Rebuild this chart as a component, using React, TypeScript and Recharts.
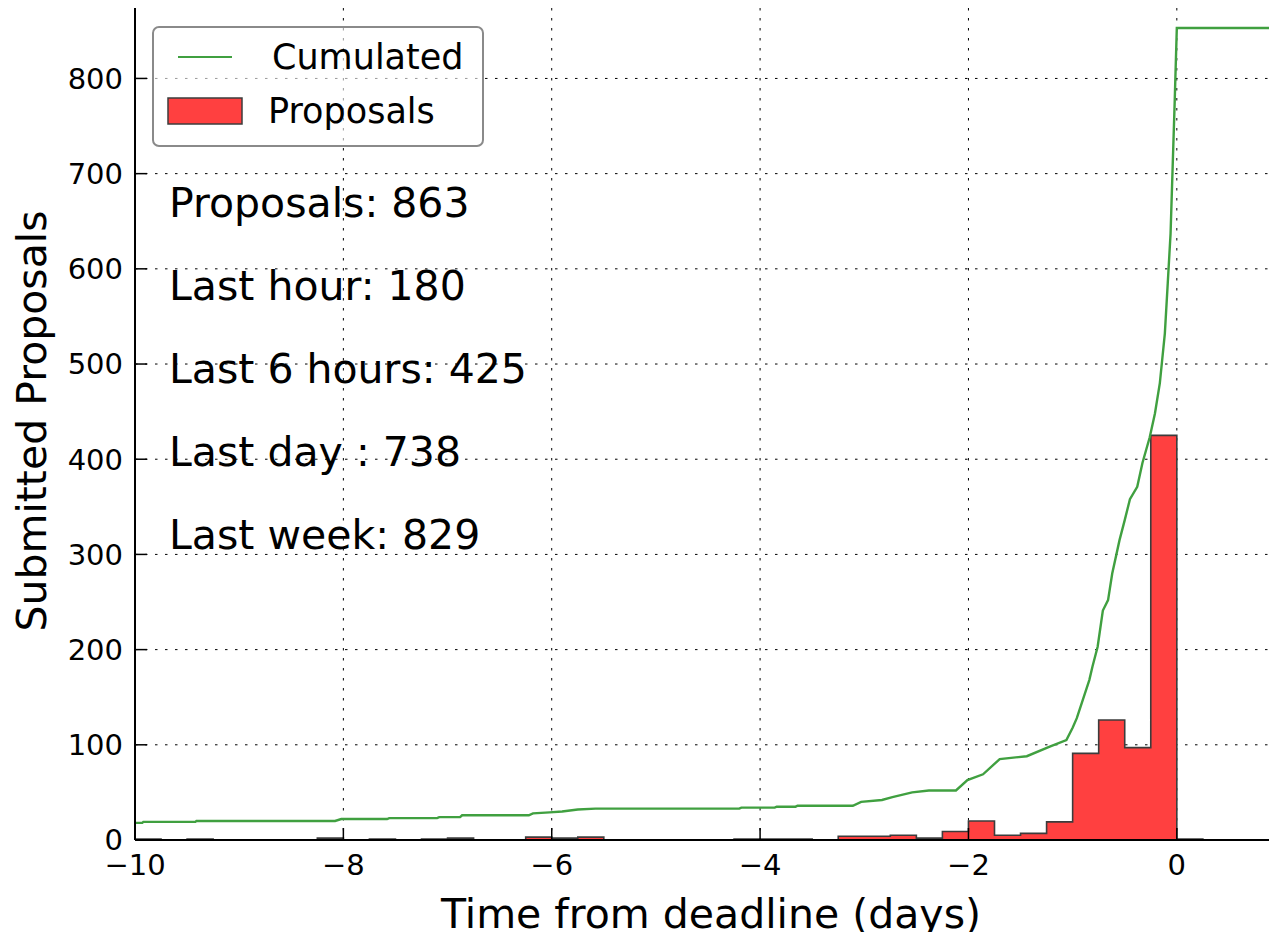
import React from 'react';
import { ComposedChart, Area, Line, XAxis, YAxis, CartesianGrid, Customized } from 'recharts';

// ---- data ----
// 6-hour histogram bins (start of each bin, in days from deadline) and counts
const binStarts = [
  -10, -9.75, -9.5, -9.25, -9, -8.75, -8.5, -8.25, -8, -7.75, -7.5, -7.25, -7, -6.75, -6.5,
  -6.25, -6, -5.75, -5.5, -5.25, -5, -4.75, -4.5, -4.25, -4, -3.75, -3.5, -3.25, -3, -2.75,
  -2.5, -2.25, -2, -1.75, -1.5, -1.25, -1, -0.75, -0.5, -0.25, 0, 0.25, 0.5, 0.75,
];
const binCounts = [
  1, 0, 1, 0, 0, 0, 0, 2, 0, 1, 0, 1, 2, 0, 0,
  3, 2, 3, 0, 0, 0, 0, 0, 1, 1, 1, 0, 4, 4, 5,
  2, 9, 20, 5, 7, 19, 91, 126, 97, 425, 1, 0, 0, 0,
];
const lastBinEnd = 1;

// cumulated curve
const cumDays = [
  -10, -9.93, -9.92, -9.42, -9.41, -8.08, -8.02, -7.58, -7.56, -7.1, -7.08, -6.88, -6.86,
  -6.22, -6.18, -6.02, -5.9, -5.75, -5.58, -4.2, -4.18, -3.86, -3.84, -3.66, -3.64, -3.11,
  -3.03, -2.83, -2.73, -2.54, -2.38, -2.12, -2.01, -1.86, -1.7, -1.44, -1.22, -1.06, -1.0,
  -0.96, -0.9, -0.84, -0.81, -0.76, -0.71, -0.66, -0.62, -0.55, -0.5, -0.45, -0.38, -0.33,
  -0.26, -0.21, -0.163, -0.115, -0.087, -0.06, -0.04, -0.02, 0, 1,
];
const cumTotals = [
  18, 18, 19, 19, 20, 20, 22, 22, 23, 23, 24, 24, 26,
  26, 28, 29, 30, 32, 33, 33, 34, 34, 35, 35, 36, 36,
  40, 42, 45, 50, 52, 52, 63, 69, 85, 88, 98, 105, 118,
  128, 148, 168, 182, 203, 241, 252, 280, 315, 336, 358, 371, 396,
  423, 448, 480, 532, 585, 637, 707, 777, 853, 853,
];

const xTicks = [-10, -8, -6, -4, -2, 0];
const yTicks = [0, 100, 200, 300, 400, 500, 600, 700, 800];
const seriesNames = ['Cumulated', 'Proposals'];
const statLabels = [
  'Proposals: 863',
  'Last hour: 180',
  'Last 6 hours: 425',
  'Last day : 738',
  'Last week: 829',
];
const xTitle = 'Time from deadline (days)';
const yTitle = 'Submitted Proposals';

// step-filled histogram: each bin start with its count, closed at the last bin edge
const histData = [
  ...binStarts.map((s, i) => ({ t: s, count: binCounts[i] })),
  { t: lastBinEnd, count: 0 },
];
const lineData = cumDays.map((d, i) => ({ t: d, cum: cumTotals[i] }));

// ---- styles ----
const FONT = 'DejaVu Sans';
const GREEN = '#40a040';
const RED = '#ff4040';
const EDGE = '#3c3c3c';
const fmt = (v: number) => (v < 0 ? `\u2212${-v}` : `${v}`);

const Overlay = () => (
  <g fontFamily={FONT} fill="#000">
    {/* legend */}
    <rect x={153} y={27} width={330} height={119} rx={6} ry={6} fill="#fff" fillOpacity={0.6} stroke="#8a8a8a" strokeWidth={2} />
    <line x1={178} x2={232} y1={57} y2={57} stroke={GREEN} strokeWidth={2} />
    <text x={272} y={69} fontSize={35}>{seriesNames[0]}</text>
    <rect x={168} y={98} width={74} height={26} fill={RED} stroke={EDGE} strokeWidth={1.5} />
    <text x={268} y={123} fontSize={35}>{seriesNames[1]}</text>
    {/* stats */}
    {statLabels.map((s, i) => (
      <text key={s} x={169} y={217 + i * 83} fontSize={41}>{s}</text>
    ))}
    {/* axis titles */}
    <text x={711} y={928} fontSize={41} textAnchor="middle">{xTitle}</text>
    <text x={46} y={421} fontSize={41} textAnchor="middle" transform="rotate(-90 46 421)">{yTitle}</text>
  </g>
);

export default function App() {
  return (
    <div style={{ position: 'absolute', left: 0, top: 0, width: 1269, height: 932, overflow: 'hidden', background: '#fff' }}>
      <ComposedChart
        width={1281}
        height={932}
        data={histData}
        margin={{ top: 8, right: 0, bottom: 0, left: 35 }}
      >
        <CartesianGrid stroke="#000" strokeDasharray="2.5 7.5" strokeWidth={1} verticalValues={xTicks} horizontalValues={yTicks} />
        <XAxis
          dataKey="t"
          type="number"
          domain={[-10, 1]}
          ticks={xTicks}
          interval={0}
          allowDataOverflow
          height={92}
          tickFormatter={fmt}
          tickSize={-12}
          tickMargin={26}
          axisLine={{ stroke: '#000', strokeWidth: 2 }}
          tickLine={{ stroke: '#000', strokeWidth: 1.5 }}
          tick={{ fill: '#000', fontSize: 29, fontFamily: FONT }}
        />
        <XAxis
          xAxisId="top"
          orientation="top"
          dataKey="t"
          type="number"
          domain={[-10, 1]}
          ticks={xTicks}
          interval={0}
          allowDataOverflow
          height={0}
          tick={false}
          tickSize={-12}
          axisLine={{ stroke: '#000', strokeWidth: 2 }}
          tickLine={{ stroke: '#000', strokeWidth: 1.5 }}
        />
        <XAxis xAxisId="line" dataKey="t" type="number" domain={[-10, 1]} allowDataOverflow hide />
        <YAxis
          type="number"
          domain={[0, 874]}
          ticks={yTicks}
          interval={0}
          allowDataOverflow
          width={100}
          tickFormatter={fmt}
          tickSize={-12}
          tickMargin={24}
          axisLine={{ stroke: '#000', strokeWidth: 2 }}
          tickLine={{ stroke: '#000', strokeWidth: 1.5 }}
          tick={{ fill: '#000', fontSize: 29, fontFamily: FONT }}
        />
        <Area
          dataKey="count"
          name={seriesNames[1]}
          type="stepAfter"
          fill={RED}
          fillOpacity={1}
          stroke={EDGE}
          strokeWidth={1.6}
          dot={false}
          activeDot={false}
          isAnimationActive={false}
        />
        <Line
          xAxisId="line"
          data={lineData}
          dataKey="cum"
          name={seriesNames[0]}
          type="linear"
          stroke={GREEN}
          strokeWidth={2.4}
          dot={false}
          activeDot={false}
          isAnimationActive={false}
        />
        <Customized component={Overlay} />
      </ComposedChart>
    </div>
  );
}
